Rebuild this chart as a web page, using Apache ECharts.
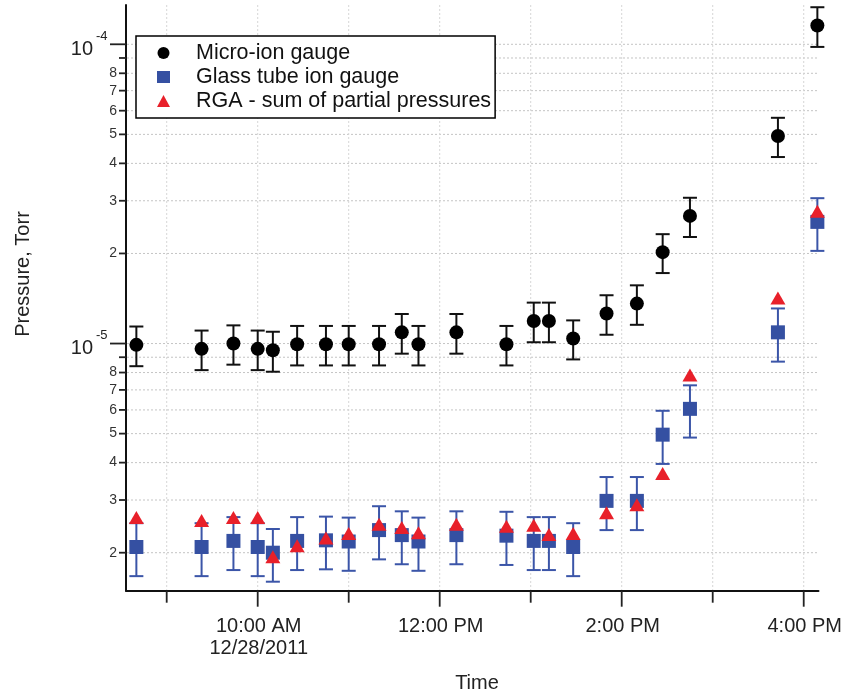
<!DOCTYPE html>
<html>
<head>
<meta charset="utf-8">
<script src="https://cdn.jsdelivr.net/npm/echarts@6/dist/echarts.min.js"></script>
<style>
html,body{margin:0;padding:0;background:#fff;}
#c{width:845px;height:694px;}
</style>
</head>
<body>
<div id="c"></div>
<script>
// ---------------- data ----------------
const times = ['08:40','09:23','09:44','10:00','10:10','10:26','10:45','11:00','11:20','11:35','11:46',
               '12:11','12:44','13:02','13:12','13:28','13:50','14:10','14:27','14:45','15:43','16:09'];
const microIon = [9.9e-6, 9.6e-6, 1.0e-5, 9.6e-6, 9.5e-6, 9.95e-6, 9.95e-6, 9.95e-6, 9.95e-6, 1.09e-5, 9.95e-6,
                  1.09e-5, 9.95e-6, 1.19e-5, 1.19e-5, 1.04e-5, 1.26e-5, 1.36e-5, 2.02e-5, 2.67e-5, 4.94e-5, 1.155e-4];
const microIonErr = [1.5e-6, 1.45e-6, 1.5e-6, 1.45e-6, 1.45e-6, 1.5e-6, 1.5e-6, 1.5e-6, 1.5e-6, 1.65e-6, 1.5e-6,
                     1.65e-6, 1.5e-6, 1.8e-6, 1.8e-6, 1.55e-6, 1.9e-6, 2.05e-6, 3.0e-6, 4.0e-6, 7.4e-6, 1.75e-5];
const glassTube = [2.09e-6, 2.09e-6, 2.19e-6, 2.09e-6, 2.0e-6, 2.19e-6, 2.2e-6, 2.18e-6, 2.38e-6, 2.29e-6, 2.18e-6,
                   2.29e-6, 2.28e-6, 2.19e-6, 2.19e-6, 2.09e-6, 2.98e-6, 2.98e-6, 4.96e-6, 6.05e-6, 1.09e-5, 2.55e-5];
const glassTubeErr = [4.2e-7, 4.2e-7, 4.4e-7, 4.2e-7, 4.0e-7, 4.4e-7, 4.4e-7, 4.4e-7, 4.8e-7, 4.6e-7, 4.4e-7,
                      4.6e-7, 4.6e-7, 4.4e-7, 4.4e-7, 4.2e-7, 6.0e-7, 6.0e-7, 1.0e-6, 1.2e-6, 2.2e-6, 5.1e-6];
const rga = [2.62e-6, 2.56e-6, 2.62e-6, 2.62e-6, 1.94e-6, 2.11e-6, 2.24e-6, 2.32e-6, 2.49e-6, 2.43e-6, 2.33e-6,
             2.49e-6, 2.45e-6, 2.47e-6, 2.30e-6, 2.32e-6, 2.72e-6, 2.89e-6, 3.68e-6, 7.85e-6, 1.42e-5, 2.77e-5];

const seriesNames = ['Micro-ion gauge', 'Glass tube ion gauge', 'RGA - sum of partial pressures'];

const hourTicks  = ['09:00','10:00','11:00','12:00','13:00','14:00','15:00','16:00'];
const hourLabels = ['', '10:00 AM\n12/28/2011', '', '12:00 PM', '', '2:00 PM', '', '4:00 PM'];

const yTicks = [2e-6,3e-6,4e-6,5e-6,6e-6,7e-6,8e-6,9e-6,1e-5,2e-5,3e-5,4e-5,5e-5,6e-5,7e-5,8e-5,9e-5,1e-4];
const yTickLabels = ['2','3','4','5','6','7','8','','10^-5','2','3','4','5','6','7','8','','10^-4'];

const xRange = ['08:33:10', '16:09:45'];
const yRange = [1.493e-6, 1.353e-4];

// ---------------- helpers ----------------
const FONT = '"Liberation Sans", Arial, Helvetica, sans-serif';
function ts(s) {
  const p = s.split(':').map(Number);
  return new Date(2011, 11, 28, p[0], p[1], p[2] || 0).getTime();
}
const xMin = ts(xRange[0]), xMax = ts(xRange[1]);

function errBarSeries(vals, errs, color, z) {
  return {
    type: 'custom', silent: true, z: z, clip: false,
    encode: { x: 0, y: [1, 2] },
    data: times.map((t, i) => [ts(t), vals[i] - errs[i], vals[i] + errs[i]]),
    renderItem: function (params, api) {
      const lo = api.coord([api.value(0), api.value(1)]);
      const hi = api.coord([api.value(0), api.value(2)]);
      const hw = 7;
      const st = { stroke: color, lineWidth: 2 };
      return {
        type: 'group',
        children: [
          { type: 'line', shape: { x1: lo[0], y1: lo[1], x2: hi[0], y2: hi[1] }, style: st },
          { type: 'line', shape: { x1: lo[0] - hw, y1: lo[1], x2: lo[0] + hw, y2: lo[1] }, style: st },
          { type: 'line', shape: { x1: hi[0] - hw, y1: hi[1], x2: hi[0] + hw, y2: hi[1] }, style: st }
        ]
      };
    }
  };
}

const yTickSeries = {
  type: 'custom', silent: true, z: 1, clip: false,
  data: yTicks.map(v => [xMin, v]),
  renderItem: function (params, api) {
    const cs = params.coordSys;
    const p = api.coord([api.value(0), api.value(1)]);
    const y = p[1];
    const lab = yTickLabels[params.dataIndex];
    const major = lab.indexOf('10^') === 0;
    const len = major ? 16 : 7;
    const children = [
      { type: 'line', shape: { x1: cs.x + 1, y1: y, x2: cs.x + cs.width, y2: y },
        style: { stroke: '#c4c4c4', lineWidth: 1, lineDash: [2, 2] } },
      { type: 'line', shape: { x1: cs.x - len, y1: y, x2: cs.x, y2: y },
        style: { stroke: '#222', lineWidth: 1.8 } }
    ];
    if (major) {
      const exp = lab.slice(3);
      children.push({ type: 'text', x: cs.x - 33, y: y + 5,
        style: { text: '10', fontSize: 20, fontFamily: FONT, fill: '#222', align: 'right', verticalAlign: 'middle' } });
      children.push({ type: 'text', x: cs.x - 30, y: y - 8,
        style: { text: exp, fontSize: 13, fontFamily: FONT, fill: '#222', align: 'left', verticalAlign: 'middle' } });
    } else if (lab) {
      children.push({ type: 'text', x: cs.x - 9, y: y,
        style: { text: lab, fontSize: 14, fontFamily: FONT, fill: '#333', align: 'right', verticalAlign: 'middle' } });
    }
    return { type: 'group', children: children };
  }
};

const xTickSeries = {
  type: 'custom', silent: true, z: 1, clip: false,
  data: hourTicks.map(t => [ts(t), yRange[0]]),
  renderItem: function (params, api) {
    const cs = params.coordSys;
    const p = api.coord([api.value(0), api.value(1)]);
    const x = p[0];
    const bottom = cs.y + cs.height;
    const lab = hourLabels[params.dataIndex];
    const major = params.dataIndex % 2 === 1;
    const len = major ? 16 : 12;
    const children = [
      { type: 'line', shape: { x1: x, y1: cs.y, x2: x, y2: bottom - 1 },
        style: { stroke: '#d6d6d6', lineWidth: 1, lineDash: [2, 2] } },
      { type: 'line', shape: { x1: x, y1: bottom, x2: x, y2: bottom + len },
        style: { stroke: '#222', lineWidth: 1.8 } }
    ];
    if (lab) {
      children.push({ type: 'text', x: x + 1, y: bottom + 25,
        style: { text: lab, fontSize: 20, lineHeight: 22, fontFamily: FONT, fill: '#222',
                 align: 'center', verticalAlign: 'top' } });
    }
    return { type: 'group', children: children };
  }
};

const chart = echarts.init(document.getElementById('c'), null, { renderer: 'canvas' });
chart.setOption({
  animation: false,
  backgroundColor: '#fff',
  grid: { left: 126, right: 26.5, top: 5, bottom: 103.3, containLabel: false },
  xAxis: {
    type: 'time', min: xMin, max: xMax,
    axisLine: { show: true, onZero: false, lineStyle: { color: '#111', width: 2 } },
    axisTick: { show: false }, axisLabel: { show: false }, splitLine: { show: false }
  },
  yAxis: {
    type: 'log', logBase: 10, min: yRange[0], max: yRange[1],
    axisLine: { show: true, onZero: false, lineStyle: { color: '#111', width: 2 } },
    axisTick: { show: false }, axisLabel: { show: false }, splitLine: { show: false }
  },
  legend: {
    left: 136, top: 36, orient: 'vertical',
    itemWidth: 13, itemHeight: 12, itemGap: 2,
    padding: [6, 4, 6, 21],
    borderColor: '#000', borderWidth: 1.5, borderRadius: 0,
    backgroundColor: '#fff',
    selectedMode: false,
    textStyle: { fontSize: 21.5, lineHeight: 22, fontFamily: FONT, color: '#111', padding: [0, 0, 0, 21] },
    data: seriesNames
  },
  graphic: [
    { type: 'text', x: 477, y: 683, style: { text: 'Time', fontSize: 20, fontFamily: FONT, fill: '#222', align: 'center', verticalAlign: 'middle' } },
    { type: 'text', x: 23, y: 274, rotation: Math.PI / 2,
      style: { text: 'Pressure, Torr', fontSize: 20, fontFamily: FONT, fill: '#222', align: 'center', verticalAlign: 'middle' } }
  ],
  series: [
    yTickSeries,
    xTickSeries,
    errBarSeries(glassTube, glassTubeErr, '#3b55a8', 3),
    errBarSeries(microIon, microIonErr, '#111', 3),
    {
      name: seriesNames[1], type: 'scatter', z: 4, clip: false,
      symbol: 'rect', symbolSize: 14,
      itemStyle: { color: '#3550a2', opacity: 1 },
      emphasis: { disabled: true },
      data: times.map((t, i) => [ts(t), glassTube[i]])
    },
    {
      name: seriesNames[0], type: 'scatter', z: 4, clip: false,
      symbol: 'circle', symbolSize: 14,
      itemStyle: { color: '#000', opacity: 1 },
      emphasis: { disabled: true },
      data: times.map((t, i) => [ts(t), microIon[i]])
    },
    {
      name: seriesNames[2], type: 'scatter', z: 5, clip: false,
      symbol: 'triangle', symbolSize: [15, 13],
      itemStyle: { color: '#e8202a', opacity: 1 },
      emphasis: { disabled: true },
      data: times.map((t, i) => [ts(t), rga[i]])
    }
  ]
});
</script>
</body>
</html>
